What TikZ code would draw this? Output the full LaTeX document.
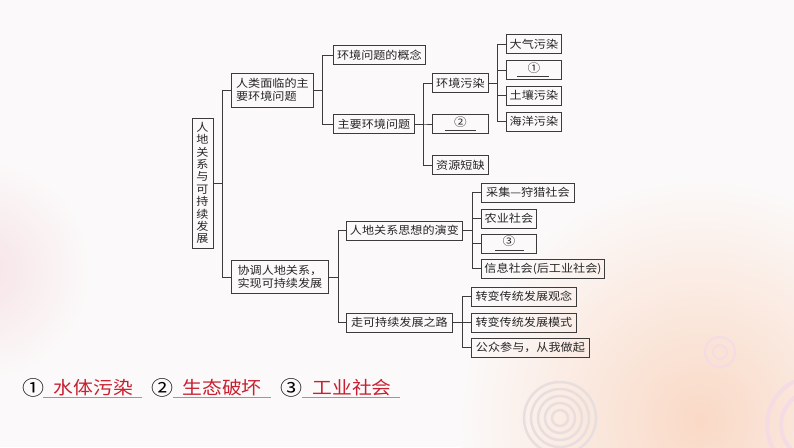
\documentclass[tikz,border=0pt]{standalone}
\usepackage{fontspec}
\newfontfamily\cjk[FakeStretch=1.1]{Noto Sans CJK SC}
\usetikzlibrary{calc}
\definecolor{linec}{HTML}{3C3C3C}
\definecolor{bgc}{HTML}{FBF9F9}
\definecolor{peach}{HTML}{FAD9C6}
\definecolor{pinkbg}{HTML}{F7E3E6}
\definecolor{ansred}{RGB}{200,32,48}
\definecolor{ringc}{HTML}{E8DEDE}
\definecolor{ringp}{HTML}{F5DCE4}
\begin{document}
\begin{tikzpicture}[x=1pt,y=-1pt,
  box/.style={draw=linec, line width=0.8pt, font=\cjk\fontsize{11}{13}\selectfont,
    inner xsep=3pt, inner ysep=1pt, minimum height=19pt, anchor=west, text=black!85},
  conn/.style={draw=linec, line width=0.8pt},
  blanknum/.style={font=\cjk\fontsize{11.5}{11.5}\selectfont, text=black!85, inner sep=0pt},
  blankline/.style={draw=linec, line width=0.7pt},
  ansnum/.style={font=\cjk\fontsize{20}{20}\selectfont, text=black, inner sep=0pt},
  anstext/.style={font=\cjk\fontsize{18}{18}\selectfont, text=ansred, inner sep=0pt},
  ansline/.style={draw=gray!80, line width=0.7pt}]
% background
\useasboundingbox (0,0) rectangle (794,447);
\begin{scope}
  \clip (0,0) rectangle (794,447);
  \fill[bgc] (0,0) rectangle (794,447);
  \shade[inner color=peach, outer color=bgc] (700,420) circle (240);
  \shade[inner color=pinkbg, outer color=bgc] (-20,270) circle (110);
  \foreach \r in {8,15,22,29,36} \draw[ringc, line width=2.5pt] (560,418) circle (\r);
  \foreach \r in {7,15} \draw[ringp, line width=2pt] (720,352) circle (\r);
  \foreach \r in {34,48} \draw[ringp, line width=4pt] (815,425) circle (\r);
\end{scope}
% bar coordinates
\coordinate (b0) at (222,0);
\coordinate (b1) at (322.5,0);
\coordinate (b2) at (423,0);
\coordinate (b3) at (497,0);
\coordinate (b4) at (338,0);
\coordinate (b5) at (472,0);
\coordinate (b6) at (462,0);
% nodes
\node[box, anchor=center, minimum width=21pt, minimum height=130pt, align=center,
  inner xsep=1pt, font=\cjk\fontsize{11}{12.4}\selectfont] (root) at (202.5,183)
  {人\\地\\关\\系\\与\\可\\持\\续\\发\\展};
\node[box, minimum width=82pt, minimum height=34pt, align=left, font=\cjk\fontsize{11}{13.5}\selectfont] (a1) at (231,90) {人类面临的主\\要环境问题};
\node[box, minimum width=97pt, minimum height=33pt, align=left, font=\cjk\fontsize{11}{13.5}\selectfont] (a2) at (231,277) {协调人地关系，\\实现可持续发展};
\node[box, minimum width=92pt] (c1) at (333,55) {环境问题的概念};
\node[box, minimum width=81pt] (c2) at (333,124) {主要环境问题};
\node[box, minimum width=56pt] (d1) at (432,83) {环境污染};
\node[box, minimum width=56pt] (d2) at (432,124) {};
\node[box, minimum width=56pt] (d3) at (432,165) {资源短缺};
\node[box, minimum width=55pt] (e1) at (506,44) {大气污染};
\node[box, minimum width=55pt] (e2) at (506,70) {};
\node[box, minimum width=55pt] (e3) at (506,95.5) {土壤污染};
\node[box, minimum width=55pt] (e4) at (506,121.5) {海洋污染};
\node[box, minimum width=116pt] (f1) at (346,230.5) {人地关系思想的演变};
\node[box, minimum width=106pt] (f2) at (346,322.5) {走可持续发展之路};
\node[box, minimum width=93pt] (g1) at (481,192.5) {采集—狩猎社会};
\node[box, minimum width=55pt] (g2) at (481,218.5) {农业社会};
\node[box, minimum width=55pt] (g3) at (481,243.5) {};
\node[box, minimum width=121pt] (g4) at (481,268.5) {信息社会(后工业社会)};
\node[box, minimum width=105pt] (h1) at (471,296.5) {转变传统发展观念};
\node[box, minimum width=105pt] (h2) at (471,322.5) {转变传统发展模式};
\node[box, minimum width=118pt] (h3) at (471,347.5) {公众参与，从我做起};
% blanks
\node[blanknum] (n1) at ($(e2.center)+(0,-2)$) {①};
\draw[blankline] ($(e2.south west)+(11,-3.5)$) -- ($(e2.south east)+(-13,-3.5)$);
\node[blanknum] (n2) at ($(d2.center)+(0,-2)$) {②};
\draw[blankline] ($(d2.south west)+(13,-3.5)$) -- ($(d2.south east)+(-13,-3.5)$);
\node[blanknum] (n3) at ($(g3.center)+(0,-2)$) {③};
\draw[blankline] ($(g3.south west)+(14,-3.5)$) -- ($(g3.south east)+(-13,-3.5)$);
% connectors
\foreach \p/\c/\b in {root/a1/b0, root/a2/b0,
    a1/c1/b1, a1/c2/b1,
    c2/d1/b2, c2/d2/b2, c2/d3/b2,
    d1/e1/b3, d1/e2/b3, d1/e3/b3, d1/e4/b3,
    a2/f1/b4, a2/f2/b4,
    f1/g1/b5, f1/g2/b5, f1/g3/b5, f1/g4/b5,
    f2/h1/b6, f2/h2/b6, f2/h3/b6}
  \draw[conn] (\p.east) -- (\p.east -| \b) |- (\c.west);
% answers
\node[ansnum] (q1) at (33,388) {①};
\node[anstext] (t1) at (93.5,388) {水体污染};
\node[ansnum] (q2) at (162,388) {②};
\node[anstext] (t2) at (222,388) {生态破坏};
\node[ansnum] (q3) at (291,388) {③};
\node[anstext] (t3) at (352,388) {工业社会};
\draw[ansline] (43,397.5) -- (142,397.5);
\draw[ansline] (173,397.5) -- (271,397.5);
\draw[ansline] (302,397.5) -- (400,397.5);
\end{tikzpicture}
\end{document}
